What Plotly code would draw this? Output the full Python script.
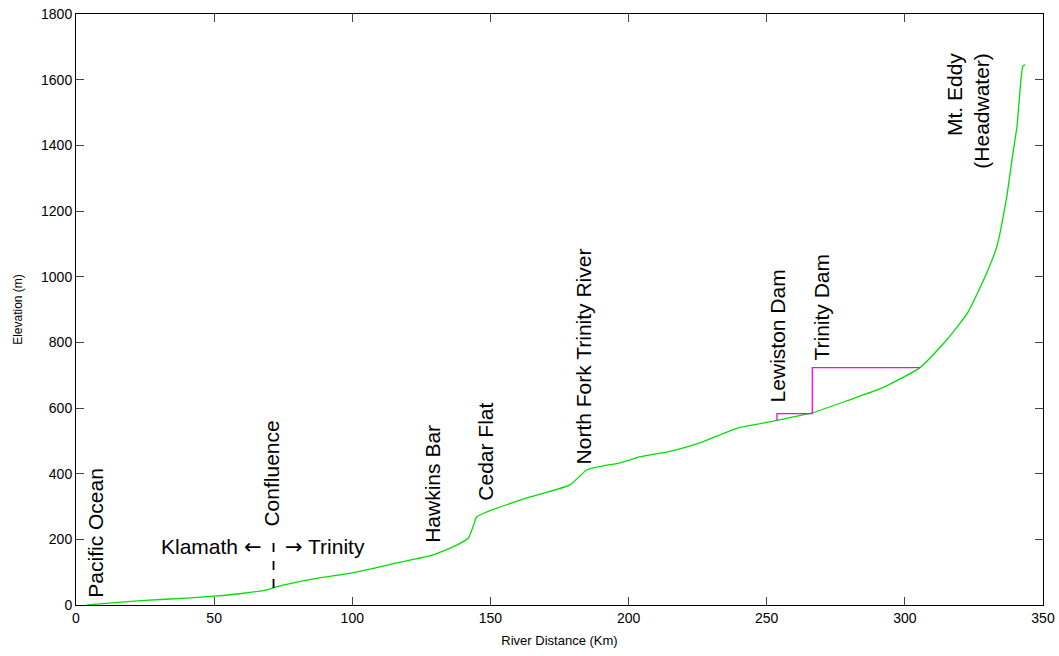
import plotly.graph_objects as go

# River profile (km, m)
river_km = [4, 12, 25, 40, 50, 60, 69, 72.4, 85, 100, 110, 116, 129, 138, 142, 143.7, 145, 148,
            164.3, 178.8, 185, 196.9, 204, 215, 225.8, 240, 253.7, 260, 266.4, 280, 292, 305.5,
            315.2, 322.8, 329.7, 333.3, 336.9, 338.8, 340.6, 342.7, 343.5]
river_elev = [0, 6, 14, 21, 27, 35, 46, 55, 78, 98, 116, 128, 152, 183, 204, 238, 268, 281,
              329, 366, 412, 433, 451, 468, 494, 540, 562, 574, 585, 625, 662, 723,
              808, 891, 1013, 1092, 1245, 1358, 1459, 1641, 1645]

# Reservoir pools (Lewiston and Trinity)
res_km = [253.7, 253.7, 266.5, 266.5, 305.5]
res_elev = [562, 583, 583, 723, 723]

# Confluence marker
conf_km = [71.5, 71.5]
conf_elev = [52, 213]

# Labels: (text, km, elev)
labels = [
    ("Pacific Ocean", 7.2, 220),
    ("Confluence", 70.9, 400),
    ("Hawkins Bar", 129.2, 369),
    ("Cedar Flat", 148.4, 467),
    ("North Fork Trinity River", 183.5, 757),
    ("Lewiston Dam", 253.7, 821),
    ("Trinity Dam", 270.0, 909),
    ("Mt. Eddy<br>(Headwater)", 322.8, 1505),
]

x_ticks = [0, 50, 100, 150, 200, 250, 300, 350]
y_ticks = [0, 200, 400, 600, 800, 1000, 1200, 1400, 1600, 1800]

FONT = "Liberation Sans, Arial, sans-serif"
ARROW = '<span style="font-family:DejaVu Sans">%s</span>'

fig = go.Figure()
fig.add_trace(go.Scatter(x=river_km, y=river_elev, mode="lines",
                         line=dict(color="#00e000", width=1.3, shape="spline", smoothing=0.5),
                         showlegend=False))
fig.add_trace(go.Scatter(x=res_km, y=res_elev, mode="lines",
                         line=dict(color="#ff00ff", width=1.3), showlegend=False))
fig.add_trace(go.Scatter(x=conf_km, y=conf_elev, mode="lines",
                         line=dict(color="black", width=1.8, dash="dash"), showlegend=False))

for text, xk, ye in labels:
    fig.add_annotation(x=xk, y=ye, text=text, textangle=-90, showarrow=False,
                       xanchor="center", yanchor="middle", align="right",
                       font=dict(family=FONT, size=21, color="black"))

fig.add_annotation(x=67.7, y=177, text="Klamath " + ARROW % "\u2190", showarrow=False,
                   xanchor="right", yanchor="middle",
                   font=dict(family=FONT, size=21, color="black"))
fig.add_annotation(x=74.9, y=177, text=ARROW % "\u2192" + " Trinity", showarrow=False,
                   xanchor="left", yanchor="middle",
                   font=dict(family=FONT, size=21, color="black"))

fig.update_layout(
    width=1059, height=656,
    margin=dict(l=76, r=16, t=14, b=51),
    paper_bgcolor="white", plot_bgcolor="white",
    font=dict(family=FONT, color="black"),
)
fig.update_xaxes(range=[0, 350], tickvals=x_ticks, ticks="inside", ticklen=8,
                 showline=True, linecolor="black", linewidth=1, mirror="ticks",
                 showgrid=False, zeroline=False, tickfont=dict(size=14), automargin=False,
                 ticklabeloverflow="allow",
                 title=dict(text="River Distance (Km)", font=dict(size=13), standoff=11))
fig.update_yaxes(range=[0, 1800], tickvals=y_ticks, ticks="inside", ticklen=8,
                 showline=True, linecolor="black", linewidth=1, mirror="ticks",
                 showgrid=False, zeroline=False, tickfont=dict(size=14), automargin=False,
                 ticklabeloverflow="allow",
                 title=dict(text="Elevation (m)", font=dict(size=12), standoff=15))

fig.write_html("out.html", config={"displayModeBar": False},
               post_script="document.body.style.margin='0';document.body.style.overflow='hidden';")
